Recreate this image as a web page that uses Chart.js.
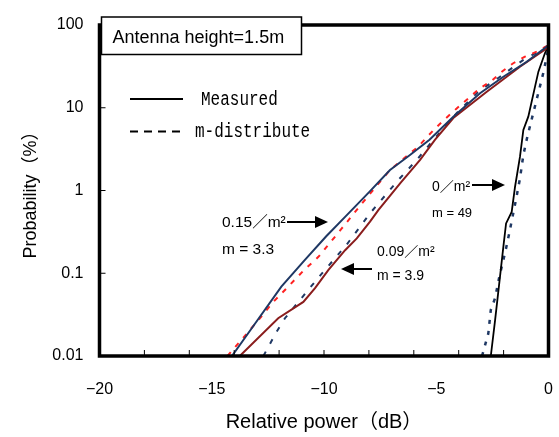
<!DOCTYPE html>
<html lang="en">
<head>
<meta charset="UTF-8">
<title>Probability vs relative power</title>
<script src="https://cdn.jsdelivr.net/npm/chart.js"></script>
<style>
  html, body { margin: 0; padding: 0; background: #fff; }
</style>
</head>
<body>
<canvas id="fadingChart" width="559" height="437"></canvas>
<script>
// relative power (dB) / probability (%)

// 0.15/m2, measured and m-distribution (m = 3.3)
const dbMeas015 = [-14.1, -13.1, -11.9, -10.85, -9.9, -9.06, -8.0, -7.06, -6.17, -5.3, -4.24, -3.05, -2.01, -0.97, 0];
const pMeas015 = [0.01, 0.024, 0.069, 0.145, 0.28, 0.48, 0.95, 1.77, 2.69, 4.1, 7.8, 15, 23.7, 36, 57];
const dbM33 = [-14.3, -12.93, -12.26, -11.66, -10.92, -10.25, -9.2, -8.25, -7.06, -5.8, -5.06, -4.61, -4.09, -3.57, -3.05, -2.53, -2.08, -1.57, -1.05, -0.53, 0];
const pM33 = [0.01, 0.027, 0.045, 0.066, 0.107, 0.158, 0.35, 0.73, 1.77, 3.4, 5.6, 7.3, 9.8, 13, 17.2, 21.2, 27.3, 34.5, 41.4, 47.6, 57];

// 0.09/m2, measured and m-distribution (m = 3.9)
const dbMeas009 = [-13.75, -12.04, -10.92, -10.4, -9.81, -9.06, -8.54, -7.95, -7.58, -6.61, -5.72, -5.06, -4.24, -2.75, -1.27, 0];
const pMeas009 = [0.01, 0.0286, 0.045, 0.066, 0.109, 0.19, 0.264, 0.42, 0.58, 1.22, 2.34, 4.1, 7.5, 15.6, 31.3, 54];
const dbM39 = [-12.7, -12.11, -11.74, -10.7, -10.03, -9.0, -7.95, -6.69, -5.87, -5.13, -4.09, -3.13, -2.16, -1.12, -0.46, 0];
const pM39 = [0.01, 0.0197, 0.0286, 0.063, 0.104, 0.22, 0.53, 1.34, 2.34, 4.07, 8.6, 15.6, 23.7, 37.8, 47.6, 57];

// 0/m2, measured and m-distribution (m = 49)
const dbMeas0 = [-2.57, -2.38, -2.16, -2.01, -1.89, -1.64, -1.49, -1.27, -1.12, -0.9, -0.6, -0.45, -0.16, 0];
const pMeas0 = [0.01, 0.027, 0.091, 0.21, 0.40, 0.55, 1.11, 2.56, 5.4, 7.8, 18, 27.3, 45.5, 57];
const dbM49 = [-2.96, -2.68, -2.57, -2.38, -2.19, -2.01, -1.89, -1.75, -1.45, -1.27, -1.12, -0.94, -0.68, -0.42, -0.2, 0];
const pM49 = [0.01, 0.0188, 0.036, 0.05, 0.091, 0.145, 0.2, 0.304, 0.77, 1.4, 2.69, 4.5, 8.6, 16.4, 28.6, 54];

const xTicks = [-20, -15, -10, -5, 0];
const xMinorTicks = [-18, -16, -14, -12, -10, -8, -6, -4, -2];
const yTicks = [0.01, 0.1, 1, 10, 100];

const NAVY = '#1f3864';
const RED = '#ff2222';
const MAROON = '#8a1d1d';
const SANS = "'Liberation Sans', 'Noto Sans CJK JP', sans-serif";
const MONO = "'Liberation Mono', 'DejaVu Sans Mono', monospace";

function pts(xs, ys) {
    return xs.map((x, i) => ({ x: x, y: ys[i] }));
}

function arrow(ctx, x1, y, x2) {
    const dir = x2 > x1 ? 1 : -1;
    ctx.beginPath();
    ctx.moveTo(x1, y);
    ctx.lineTo(x2 - dir * 10, y);
    ctx.stroke();
    ctx.beginPath();
    ctx.moveTo(x2, y);
    ctx.lineTo(x2 - dir * 13, y - 6);
    ctx.lineTo(x2 - dir * 13, y + 6);
    ctx.closePath();
    ctx.fill();
}

// keep the plot box where the figure has it
function noScalePadding(s) {
    s.paddingLeft = 0;
    s.paddingRight = 0;
    s.paddingTop = 0;
    s.paddingBottom = 0;
}

// frame, inward ticks, legend and the text notes
const decorations = {
    id: 'decorations',
    afterDraw(chart) {
        const ctx = chart.ctx;
        const a = chart.chartArea;
        const xs = chart.scales.x, ys = chart.scales.y;
        ctx.save();
        ctx.strokeStyle = '#000';
        ctx.fillStyle = '#000';
        ctx.setLineDash([]);

        ctx.lineWidth = 1;
        xMinorTicks.forEach(v => {
            const px = xs.getPixelForValue(v);
            ctx.beginPath();
            ctx.moveTo(px, a.bottom);
            ctx.lineTo(px, a.bottom - 6);
            ctx.stroke();
        });
        yTicks.slice(1, -1).forEach(v => {
            const py = ys.getPixelForValue(v);
            ctx.beginPath();
            ctx.moveTo(a.left, py);
            ctx.lineTo(a.left + 6, py);
            ctx.stroke();
        });

        ctx.lineWidth = 3.5;
        ctx.strokeRect(a.left, a.top, a.right - a.left, a.bottom - a.top);

        // title box
        ctx.lineWidth = 1.5;
        ctx.fillStyle = '#fff';
        ctx.fillRect(101.5, 17, 200, 37.5);
        ctx.strokeRect(101.5, 17, 200, 37.5);
        ctx.fillStyle = '#000';
        ctx.font = '18px ' + SANS;
        ctx.textBaseline = 'alphabetic';
        ctx.fillText('Antenna height=1.5m', 112.5, 42.5);

        // legend
        ctx.lineWidth = 2;
        ctx.beginPath();
        ctx.moveTo(130, 99);
        ctx.lineTo(183, 99);
        ctx.stroke();
        ctx.setLineDash([8, 6]);
        ctx.beginPath();
        ctx.moveTo(130, 131.5);
        ctx.lineTo(180, 131.5);
        ctx.stroke();
        ctx.setLineDash([]);
        ctx.textBaseline = 'middle';
        ctx.save();
        ctx.scale(0.8, 1);
        ctx.font = '20px ' + MONO;
        ctx.fillText('Measured', 201 / 0.8, 99.5);
        ctx.fillText('m-distribute', 195 / 0.8, 131.5);
        ctx.restore();

        // notes
        ctx.lineWidth = 2;
        ctx.font = '15.5px ' + SANS;
        ctx.fillText('0.15／m²', 222, 222.5);
        ctx.fillText('m = 3.3', 222, 249.5);
        arrow(ctx, 287, 222, 328);

        ctx.font = '14px ' + SANS;
        ctx.fillText('0.09／m²', 377, 252);
        ctx.fillText('m = 3.9', 377, 276);
        arrow(ctx, 372, 269, 341);

        ctx.fillText('0／m²', 432, 187);
        ctx.font = '13px ' + SANS;
        ctx.fillText('m = 49', 432, 213);
        arrow(ctx, 472, 185, 505);

        ctx.restore();
    }
};

const ctx = document.getElementById('fadingChart').getContext('2d');
new Chart(ctx, {
    type: 'line',
    data: {
        datasets: [
            { label: 'Measured 0.15/m2', data: pts(dbMeas015, pMeas015), borderColor: NAVY, borderWidth: 2 },
            { label: 'm = 3.3', data: pts(dbM33, pM33), borderColor: RED, borderWidth: 2, borderDash: [5, 7] },
            { label: 'Measured 0.09/m2', data: pts(dbMeas009, pMeas009), borderColor: MAROON, borderWidth: 2 },
            { label: 'm = 3.9', data: pts(dbM39, pM39), borderColor: NAVY, borderWidth: 2, borderDash: [5, 9] },
            { label: 'Measured 0/m2', data: pts(dbMeas0, pMeas0), borderColor: '#000', borderWidth: 1.8 },
            { label: 'm = 49', data: pts(dbM49, pM49), borderColor: NAVY, borderWidth: 2.5, borderDash: [4, 7] }
        ]
    },
    options: {
        responsive: false,
        animation: false,
        layout: { autoPadding: false, padding: { left: 0, right: 10.5, top: 25, bottom: 0 } },
        elements: { point: { radius: 0 }, line: { tension: 0, fill: false } },
        plugins: { legend: { display: false }, tooltip: { enabled: false } },
        scales: {
            x: {
                type: 'linear',
                min: -20,
                max: 0,
                afterBuildTicks: s => { s.ticks = xTicks.map(v => ({ value: v })); },
                afterFit: s => { s.height = 81; noScalePadding(s); },
                grid: { display: false, drawTicks: false },
                border: { display: false },
                ticks: {
                    padding: 24,
                    color: '#000',
                    font: { family: SANS, size: 16 },
                    maxRotation: 0,
                    callback: v => (v < 0 ? '−' + Math.abs(v) : String(v))
                },
                title: {
                    display: true,
                    text: 'Relative power（dB）',
                    color: '#000',
                    font: { family: SANS, size: 20 },
                    padding: { top: 0, bottom: 3 }
                }
            },
            y: {
                type: 'logarithmic',
                min: 0.01,
                max: 100,
                afterBuildTicks: s => { s.ticks = yTicks.map(v => ({ value: v })); },
                afterFit: s => { s.width = 99.5; noScalePadding(s); },
                grid: { display: false, drawTicks: false },
                border: { display: false },
                ticks: {
                    padding: 16,
                    color: '#000',
                    font: { family: SANS, size: 16 },
                    callback: v => String(v)
                },
                title: {
                    display: true,
                    text: 'Probability（%）',
                    color: '#000',
                    font: { family: SANS, size: 18 },
                    padding: { top: 20, bottom: 0 }
                }
            }
        }
    },
    plugins: [decorations]
});
</script>
</body>
</html>
